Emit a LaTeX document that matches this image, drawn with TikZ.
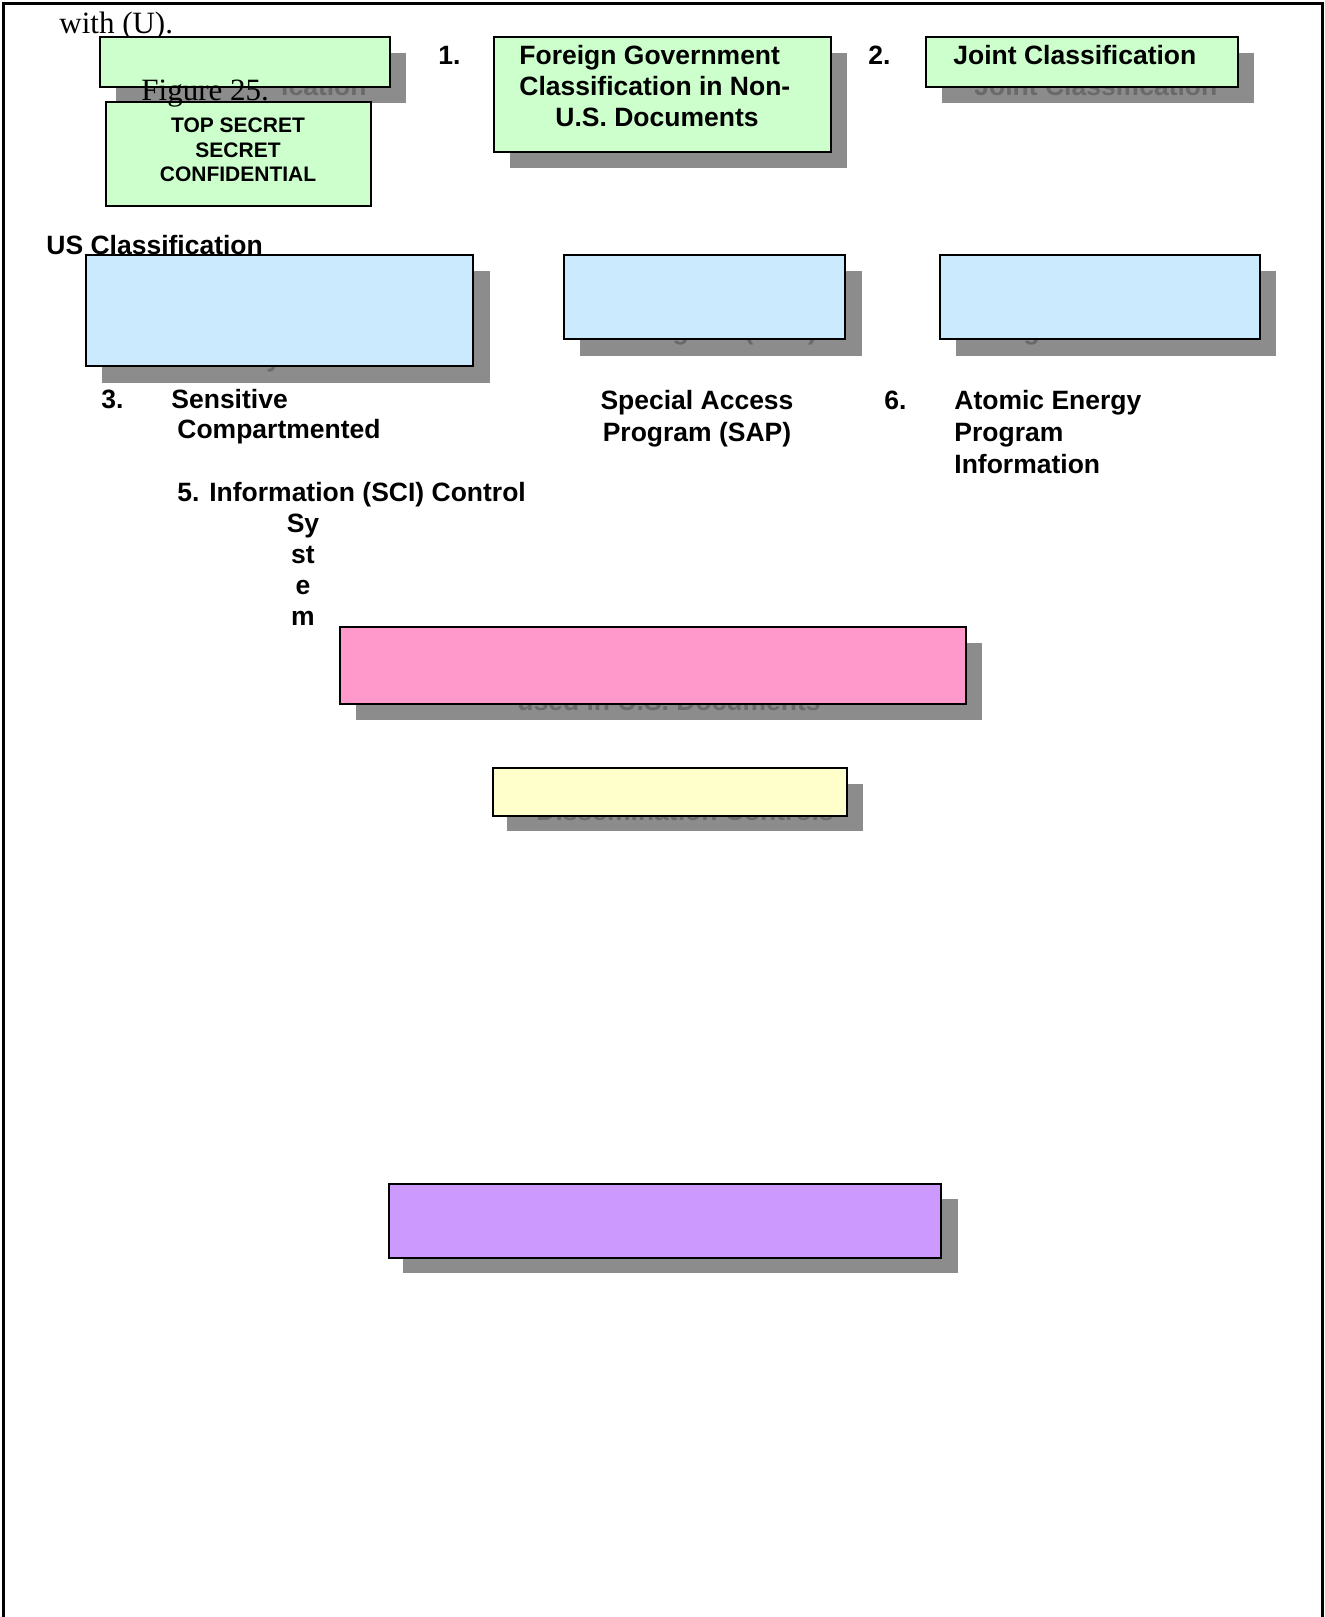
\documentclass[tikz,border=0pt]{standalone}
\usepackage{fontspec}
\setmainfont{Liberation Serif}
\setsansfont{Liberation Sans}
\definecolor{boxgreen}{HTML}{CCFFCC}
\definecolor{boxblue}{HTML}{CCEAFD}
\definecolor{boxpink}{HTML}{FF99CC}
\definecolor{boxyellow}{HTML}{FFFFCC}
\definecolor{boxpurple}{HTML}{CC99FF}
\definecolor{shadowgray}{HTML}{8C8C8C}
\definecolor{shadowtext}{HTML}{6A6A6A}

\begin{document}
\begin{tikzpicture}[x=0.5pt,y=-0.5pt,
  lbl/.style={font=\sffamily\bfseries\fontsize{13.25}{15.5}\selectfont, inner sep=0pt, anchor=base west},
  small/.style={font=\sffamily\bfseries\fontsize{10.5}{12.25}\selectfont, inner sep=0pt, anchor=base},
  ghost/.style={lbl, text=shadowtext},
  serif/.style={font=\fontsize{15.5}{18}\selectfont, inner sep=0pt, anchor=base west},
  box/.style={draw=black, line width=1.25pt},
  shade/.style={fill=shadowgray}]
\useasboundingbox (0,0) rectangle (1325,1617);
\draw[line width=1.5pt] (3,1617) -- (3,3) -- (1322,3) -- (1322,1617);
\node[serif] (withu) at (59,33) {with (U).};
% shadows
\fill[shade] (116,53) rectangle (406,103);
\fill[shade] (510,53) rectangle (847,168);
\fill[shade] (942,53) rectangle (1254,103);
\fill[shade] (102,271) rectangle (490,383);
\fill[shade] (580,271) rectangle (862,356);
\fill[shade] (956,271) rectangle (1276,356);
\fill[shade] (356,643) rectangle (982,720);
\fill[shade] (507,784) rectangle (863,831);
\fill[shade] (403,1199) rectangle (958,1273);
% text left in the shadows
\node[ghost, anchor=base east] (ghostus) at (367,95) {ication};
\node[ghost] (ghostjoint) at (974,95) {Joint Classification};
\node[ghost] (ghostsci) at (266,366) {y};
\node[ghost] (ghostsap) at (628,339) {Program (SAP)};
\node[ghost] (ghostaea) at (979,339) {Program};
\node[ghost] (ghostused) at (517,710) {used in U.S. Documents};
\node[ghost] (ghostdissem) at (536,820) {Dissemination Controls};
% boxes
\draw[box, fill=boxgreen] (100,37) rectangle (390,87);
\draw[box, fill=boxgreen] (106,102) rectangle (371,206);
\draw[box, fill=boxgreen] (494,37) rectangle (831,152);
\draw[box, fill=boxgreen] (926,37) rectangle (1238,87);
\draw[box, fill=boxblue] (86,255) rectangle (473,366);
\draw[box, fill=boxblue] (564,255) rectangle (845,339);
\draw[box, fill=boxblue] (940,255) rectangle (1260,339);
\draw[box, fill=boxpink] (340,627) rectangle (966,704);
\draw[box, fill=boxyellow] (493,768) rectangle (847,816);
\draw[box, fill=boxpurple] (389,1184) rectangle (941,1258);
% labels
\node[small] (ts) at (238,132) {TOP SECRET};
\node[small] (sec) at (238,157) {SECRET};
\node[small] (conf) at (238,181) {CONFIDENTIAL};
\node[lbl] (one) at (438,64) {1.};
\node[lbl] (fg1) at (519,64) {Foreign Government};
\node[lbl] (fg2) at (519,95) {Classification in Non-};
\node[lbl] (fg3) at (555,126) {U.S. Documents};
\node[lbl] (two) at (868,64) {2.};
\node[lbl] (joint) at (953,64) {Joint Classification};
\node[lbl] (uscl) at (46,254) {US Classification};
\node[lbl] (three) at (101,408) {3.};
\node[lbl] (sens) at (171,408) {Sensitive};
\node[lbl] (comp) at (177,438) {Compartmented};
\node[lbl, anchor=base] (sap1) at (697,409) {Special Access};
\node[lbl, anchor=base] (sap2) at (697,441) {Program (SAP)};
\node[lbl] (six) at (884,409) {6.};
\node[lbl] (aea1) at (954,409) {Atomic Energy};
\node[lbl] (aea2) at (954,441) {Program};
\node[lbl] (aea3) at (954,473) {Information};
\node[lbl] (five) at (177,501) {5. Information (SCI) Control};
\node[lbl, anchor=base] (sys1) at (303,532) {Sy};
\node[lbl, anchor=base] (sys2) at (303,563) {st};
\node[lbl, anchor=base] (sys3) at (303,594) {e};
\node[lbl, anchor=base] (sys4) at (303,625) {m};
\node[serif] (fig) at (141,100) {Figure 25.};
\end{tikzpicture}
\end{document}
